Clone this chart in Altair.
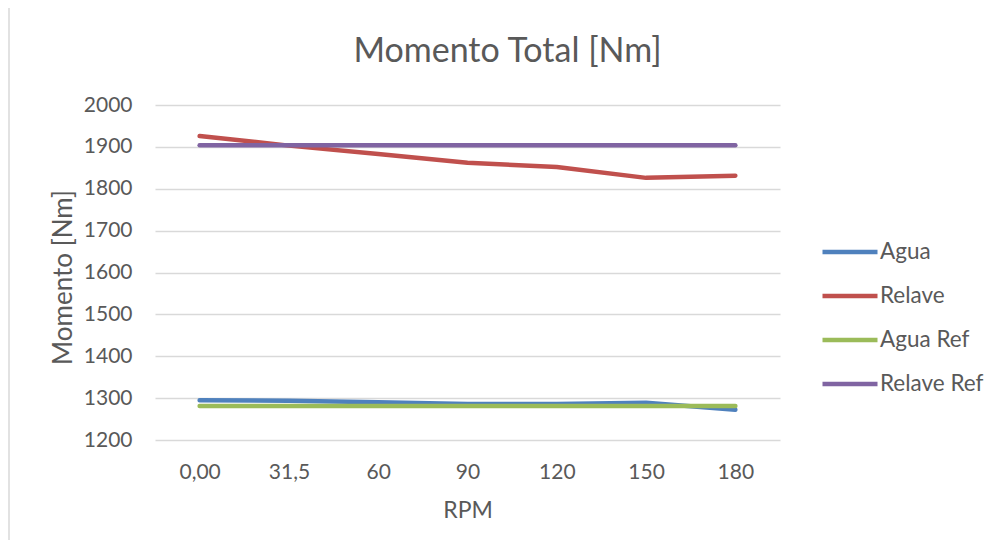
import altair as alt
import pandas as pd

rpm = ["0,00", "31,5", "60", "90", "120", "150", "180"]
agua = [1295, 1294, 1290, 1286, 1286, 1289, 1272]
relave = [1926, 1903, 1883, 1862, 1852, 1826, 1831]
agua_ref = [1281, 1281, 1281, 1281, 1281, 1281, 1281]
relave_ref = [1904, 1904, 1904, 1904, 1904, 1904, 1904]
series = ["Agua", "Relave", "Agua Ref", "Relave Ref"]
colors = ["#4F81BD", "#C0504D", "#9BBB59", "#8064A2"]
y_ticks = [1200, 1300, 1400, 1500, 1600, 1700, 1800, 1900, 2000]

rows = []
for name, vals in zip(series, [agua, relave, agua_ref, relave_ref]):
    for r, v in zip(rpm, vals):
        rows.append({"RPM": r, "Momento": v, "Serie": name, "order": series.index(name)})
df = pd.DataFrame(rows)

FONT = "Lato"
TXT = "#595959"

lines = alt.Chart(df).mark_line(strokeWidth=4.5, strokeCap="round", strokeJoin="round").encode(
    x=alt.X("RPM:N", sort=rpm, scale=alt.Scale(type="point", padding=0.5),
            axis=alt.Axis(title="RPM", labelAngle=0, ticks=False, domain=False, grid=False,
                          labelPadding=21, titlePadding=17, titleFontSize=23)),
    y=alt.Y("Momento:Q", scale=alt.Scale(domain=[1200, 2000], nice=False, zero=False),
            axis=alt.Axis(title="Momento [Nm]", values=y_ticks, format="d", ticks=False, domain=False,
                          labelPadding=23, titlePadding=7, titleFontSize=26, titleY=172,
                          gridColor="#D9D9D9", gridWidth=1.3)),
    color=alt.Color("Serie:N", sort=series, scale=alt.Scale(domain=series, range=colors),
                    legend=alt.Legend(title=None, orient="none", legendX=665, legendY=117,
                                      symbolType="stroke", symbolStrokeWidth=4.5, symbolSize=3025,
                                      labelFontSize=22.5, labelFont=FONT, labelColor=TXT,
                                      labelOffset=0, rowPadding=2)),
    order="order:Q",
    detail="Serie:N",
)

frame = alt.Chart(pd.DataFrame({"a": [0]})).mark_rect(fill=None, stroke="#D9D9D9", strokeWidth=1.5).encode(
    x=alt.value(-146), x2=alt.value(860), y=alt.value(-100), y2=alt.value(470)
)

chart = alt.layer(frame, lines).properties(
    width=625, height=335,
    title=alt.TitleParams("Momento Total [Nm]", fontSize=34, font=FONT, color=TXT,
                          fontWeight="normal", anchor="middle", dx=40, dy=99, offset=34),
    autosize=alt.AutoSizeParams(type="none"),
    padding={"left": 147, "top": 97, "right": 212, "bottom": 100},
).configure_axis(
    labelFont=FONT, titleFont=FONT, labelFontSize=21,
    labelColor=TXT, titleColor=TXT, titleFontWeight="normal"
).configure_view(stroke=None)

chart.save("out.html", embed_options={"renderer": "svg", "actions": False})
